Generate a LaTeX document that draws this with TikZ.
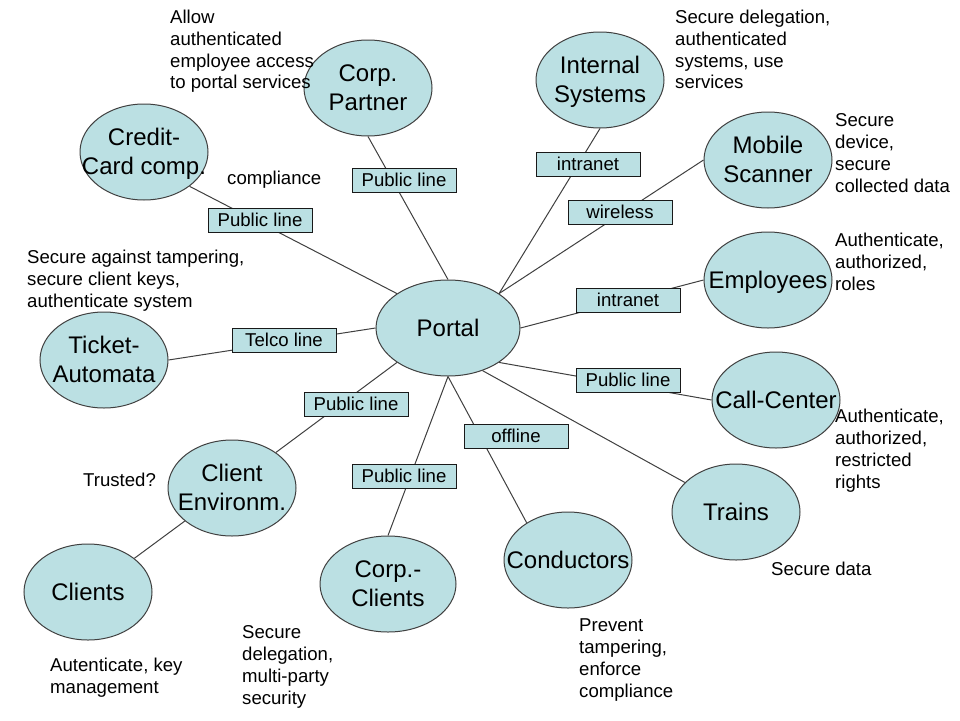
\documentclass[tikz,border=0pt]{standalone}
\usepackage{fontspec}
\setmainfont{Liberation Sans}
\usetikzlibrary{shapes.geometric}
\definecolor{bub}{HTML}{BBE0E3}
\newcommand\ctr[1]{\smash{\raisebox{-8.5pt}{\makebox[0pt]{\begin{tabular}{@{}c@{}}#1\end{tabular}}}}}
\newcommand\lft[1]{\begin{tabular}[t]{@{}l@{}}#1\end{tabular}}
\begin{document}
\begin{tikzpicture}[x=1pt,y=-1pt,
  bubble/.style={ellipse, draw=black!75, fill=bub, line width=1pt, minimum width=128pt, minimum height=96pt, inner sep=0pt, font=\fontsize{24}{29}\selectfont},
  tag/.style={rectangle, draw=black!90, fill=bub, line width=1pt, minimum width=104pt, minimum height=24pt, inner sep=0pt, text height=13pt, text depth=0pt, font=\fontsize{18.6}{22}\selectfont},
  note/.style={anchor=base west, inner sep=0pt, font=\fontsize{18.6}{22}\selectfont},
  link/.style={draw=black!75, line width=1pt}]
\useasboundingbox[fill=white] (0,0) rectangle (960,720);

% bubbles
\node[bubble, minimum width=144pt] (portal) at (448,328) {\ctr{Portal}};
\node[bubble] (cp) at (368,88) {\ctr{Corp.\\Partner}};
\node[bubble] (ccc) at (144,152) {\ctr{Credit-\\Card comp.}};
\node[bubble] (ta) at (104,360) {\ctr{Ticket-\\Automata}};
\node[bubble] (is) at (600,80) {\ctr{Internal\\Systems}};
\node[bubble] (ms) at (768,160) {\ctr{Mobile\\Scanner}};
\node[bubble] (emp) at (768,280) {\ctr{Employees}};
\node[bubble] (call) at (776,400) {\ctr{Call-Center}};
\node[bubble] (tr) at (736,512) {\ctr{Trains}};
\node[bubble] (cond) at (568,560) {\ctr{Conductors}};
\node[bubble, minimum width=136pt] (corpc) at (388,584) {\ctr{Corp.-\\Clients}};
\node[bubble] (ce) at (232,488) {\ctr{Client\\Environm.}};
\node[bubble] (cl) at (88,592) {\ctr{Clients}};

% connectors
\draw[link] (cp.south) -- (portal.north);
\draw[link] (ccc.-37) -- (portal.146);
\draw[link] (ta.east) -- (portal.west);
\draw[link] (is.south) -- (portal.34);
\draw[link] (ms.west) -- (portal.34);
\draw[link] (emp.west) -- (portal.east);
\draw[link] (call.west) -- (portal.-34);
\draw[link] (tr.150) -- (portal.-51);
\draw[link] (cond.138) -- (portal.south);
\draw[link] (corpc.north) -- (portal.south);
\draw[link] (ce.39) -- (portal.-146);
\draw[link] (cl.36) -- (ce.-145);

% line labels
\node[tag] (t1) at (404,180) {Public line};
\node[tag] (t2) at (260,220) {Public line};
\node[tag] (t3) at (284,340) {Telco line};
\node[tag] (t4) at (588,164) {intranet};
\node[tag] (t5) at (620,212) {wireless};
\node[tag] (t6) at (628,300) {intranet};
\node[tag] (t7) at (628,380) {Public line};
\node[tag] (t8) at (516,436) {offline};
\node[tag] (t9) at (356,404) {Public line};
\node[tag] (t10) at (404,476) {Public line};

% notes
\node[note] (n1) at (170,23) {\lft{Allow\\authenticated\\employee access\\to portal services}};
\node[note] (n2) at (227,184) {\lft{compliance}};
\node[note] (n3) at (27,263) {\lft{Secure against tampering,\\secure client keys,\\authenticate system}};
\node[note] (n4) at (675,23) {\lft{Secure delegation,\\authenticated\\systems, use\\services}};
\node[note] (n5) at (835,126) {\lft{Secure\\device,\\secure\\collected data}};
\node[note] (n6) at (835,246) {\lft{Authenticate,\\authorized,\\roles}};
\node[note] (n7) at (835,422) {\lft{Authenticate,\\authorized,\\restricted\\rights}};
\node[note] (n8) at (771,575) {\lft{Secure data}};
\node[note] (n9) at (579,631) {\lft{Prevent\\tampering,\\enforce\\compliance}};
\node[note] (n10) at (83,486) {\lft{Trusted?}};
\node[note] (n11) at (50,671) {\lft{Autenticate, key\\management}};
\node[note] (n12) at (242,638) {\lft{Secure\\delegation,\\multi-party\\security}};
\end{tikzpicture}
\end{document}
